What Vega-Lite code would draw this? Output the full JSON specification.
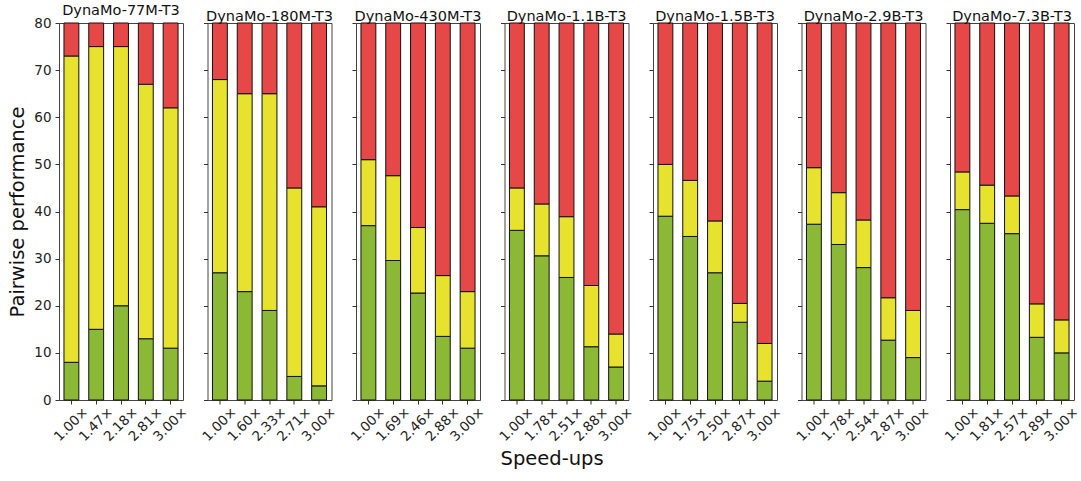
{
  "$schema": "https://vega.github.io/schema/vega-lite/v6.json",
  "background": "white",
  "padding": {"left": 7, "top": 2, "right": 4, "bottom": 4},
  "bounds": "flush",
  "spacing": 24.5,
  "title": {"text": "Speed-ups", "orient": "bottom", "anchor": "middle", "font": "DejaVu Sans", "fontSize": 19.5, "fontWeight": "normal", "color": "#111", "offset": 6, "dx": 8},
  "data": {"values": [
    {"m":"DynaMo-77M-T3","s":"1.00×","c":"win","o":1,"v":8},
    {"m":"DynaMo-77M-T3","s":"1.00×","c":"tie","o":2,"v":65},
    {"m":"DynaMo-77M-T3","s":"1.00×","c":"lose","o":3,"v":7},
    {"m":"DynaMo-77M-T3","s":"1.47×","c":"win","o":1,"v":15},
    {"m":"DynaMo-77M-T3","s":"1.47×","c":"tie","o":2,"v":60},
    {"m":"DynaMo-77M-T3","s":"1.47×","c":"lose","o":3,"v":5},
    {"m":"DynaMo-77M-T3","s":"2.18×","c":"win","o":1,"v":20},
    {"m":"DynaMo-77M-T3","s":"2.18×","c":"tie","o":2,"v":55},
    {"m":"DynaMo-77M-T3","s":"2.18×","c":"lose","o":3,"v":5},
    {"m":"DynaMo-77M-T3","s":"2.81×","c":"win","o":1,"v":13},
    {"m":"DynaMo-77M-T3","s":"2.81×","c":"tie","o":2,"v":54},
    {"m":"DynaMo-77M-T3","s":"2.81×","c":"lose","o":3,"v":13},
    {"m":"DynaMo-77M-T3","s":"3.00×","c":"win","o":1,"v":11},
    {"m":"DynaMo-77M-T3","s":"3.00×","c":"tie","o":2,"v":51},
    {"m":"DynaMo-77M-T3","s":"3.00×","c":"lose","o":3,"v":18},

    {"m":"DynaMo-180M-T3","s":"1.00×","c":"win","o":1,"v":27},
    {"m":"DynaMo-180M-T3","s":"1.00×","c":"tie","o":2,"v":41},
    {"m":"DynaMo-180M-T3","s":"1.00×","c":"lose","o":3,"v":12},
    {"m":"DynaMo-180M-T3","s":"1.60×","c":"win","o":1,"v":23},
    {"m":"DynaMo-180M-T3","s":"1.60×","c":"tie","o":2,"v":42},
    {"m":"DynaMo-180M-T3","s":"1.60×","c":"lose","o":3,"v":15},
    {"m":"DynaMo-180M-T3","s":"2.33×","c":"win","o":1,"v":19},
    {"m":"DynaMo-180M-T3","s":"2.33×","c":"tie","o":2,"v":46},
    {"m":"DynaMo-180M-T3","s":"2.33×","c":"lose","o":3,"v":15},
    {"m":"DynaMo-180M-T3","s":"2.71×","c":"win","o":1,"v":5},
    {"m":"DynaMo-180M-T3","s":"2.71×","c":"tie","o":2,"v":40},
    {"m":"DynaMo-180M-T3","s":"2.71×","c":"lose","o":3,"v":35},
    {"m":"DynaMo-180M-T3","s":"3.00×","c":"win","o":1,"v":3},
    {"m":"DynaMo-180M-T3","s":"3.00×","c":"tie","o":2,"v":38},
    {"m":"DynaMo-180M-T3","s":"3.00×","c":"lose","o":3,"v":39},

    {"m":"DynaMo-430M-T3","s":"1.00×","c":"win","o":1,"v":37},
    {"m":"DynaMo-430M-T3","s":"1.00×","c":"tie","o":2,"v":14},
    {"m":"DynaMo-430M-T3","s":"1.00×","c":"lose","o":3,"v":29},
    {"m":"DynaMo-430M-T3","s":"1.69×","c":"win","o":1,"v":29.6},
    {"m":"DynaMo-430M-T3","s":"1.69×","c":"tie","o":2,"v":18},
    {"m":"DynaMo-430M-T3","s":"1.69×","c":"lose","o":3,"v":32.4},
    {"m":"DynaMo-430M-T3","s":"2.46×","c":"win","o":1,"v":22.7},
    {"m":"DynaMo-430M-T3","s":"2.46×","c":"tie","o":2,"v":13.9},
    {"m":"DynaMo-430M-T3","s":"2.46×","c":"lose","o":3,"v":43.4},
    {"m":"DynaMo-430M-T3","s":"2.88×","c":"win","o":1,"v":13.5},
    {"m":"DynaMo-430M-T3","s":"2.88×","c":"tie","o":2,"v":12.9},
    {"m":"DynaMo-430M-T3","s":"2.88×","c":"lose","o":3,"v":53.6},
    {"m":"DynaMo-430M-T3","s":"3.00×","c":"win","o":1,"v":11},
    {"m":"DynaMo-430M-T3","s":"3.00×","c":"tie","o":2,"v":12},
    {"m":"DynaMo-430M-T3","s":"3.00×","c":"lose","o":3,"v":57},

    {"m":"DynaMo-1.1B-T3","s":"1.00×","c":"win","o":1,"v":36},
    {"m":"DynaMo-1.1B-T3","s":"1.00×","c":"tie","o":2,"v":9},
    {"m":"DynaMo-1.1B-T3","s":"1.00×","c":"lose","o":3,"v":35},
    {"m":"DynaMo-1.1B-T3","s":"1.78×","c":"win","o":1,"v":30.6},
    {"m":"DynaMo-1.1B-T3","s":"1.78×","c":"tie","o":2,"v":11},
    {"m":"DynaMo-1.1B-T3","s":"1.78×","c":"lose","o":3,"v":38.4},
    {"m":"DynaMo-1.1B-T3","s":"2.51×","c":"win","o":1,"v":26},
    {"m":"DynaMo-1.1B-T3","s":"2.51×","c":"tie","o":2,"v":12.9},
    {"m":"DynaMo-1.1B-T3","s":"2.51×","c":"lose","o":3,"v":41.1},
    {"m":"DynaMo-1.1B-T3","s":"2.88×","c":"win","o":1,"v":11.3},
    {"m":"DynaMo-1.1B-T3","s":"2.88×","c":"tie","o":2,"v":13},
    {"m":"DynaMo-1.1B-T3","s":"2.88×","c":"lose","o":3,"v":55.7},
    {"m":"DynaMo-1.1B-T3","s":"3.00×","c":"win","o":1,"v":7},
    {"m":"DynaMo-1.1B-T3","s":"3.00×","c":"tie","o":2,"v":7},
    {"m":"DynaMo-1.1B-T3","s":"3.00×","c":"lose","o":3,"v":66},

    {"m":"DynaMo-1.5B-T3","s":"1.00×","c":"win","o":1,"v":39},
    {"m":"DynaMo-1.5B-T3","s":"1.00×","c":"tie","o":2,"v":11},
    {"m":"DynaMo-1.5B-T3","s":"1.00×","c":"lose","o":3,"v":30},
    {"m":"DynaMo-1.5B-T3","s":"1.75×","c":"win","o":1,"v":34.7},
    {"m":"DynaMo-1.5B-T3","s":"1.75×","c":"tie","o":2,"v":11.9},
    {"m":"DynaMo-1.5B-T3","s":"1.75×","c":"lose","o":3,"v":33.4},
    {"m":"DynaMo-1.5B-T3","s":"2.50×","c":"win","o":1,"v":27},
    {"m":"DynaMo-1.5B-T3","s":"2.50×","c":"tie","o":2,"v":11},
    {"m":"DynaMo-1.5B-T3","s":"2.50×","c":"lose","o":3,"v":42},
    {"m":"DynaMo-1.5B-T3","s":"2.87×","c":"win","o":1,"v":16.5},
    {"m":"DynaMo-1.5B-T3","s":"2.87×","c":"tie","o":2,"v":4},
    {"m":"DynaMo-1.5B-T3","s":"2.87×","c":"lose","o":3,"v":59.5},
    {"m":"DynaMo-1.5B-T3","s":"3.00×","c":"win","o":1,"v":4},
    {"m":"DynaMo-1.5B-T3","s":"3.00×","c":"tie","o":2,"v":8},
    {"m":"DynaMo-1.5B-T3","s":"3.00×","c":"lose","o":3,"v":68},

    {"m":"DynaMo-2.9B-T3","s":"1.00×","c":"win","o":1,"v":37.3},
    {"m":"DynaMo-2.9B-T3","s":"1.00×","c":"tie","o":2,"v":12},
    {"m":"DynaMo-2.9B-T3","s":"1.00×","c":"lose","o":3,"v":30.7},
    {"m":"DynaMo-2.9B-T3","s":"1.78×","c":"win","o":1,"v":33},
    {"m":"DynaMo-2.9B-T3","s":"1.78×","c":"tie","o":2,"v":11},
    {"m":"DynaMo-2.9B-T3","s":"1.78×","c":"lose","o":3,"v":36},
    {"m":"DynaMo-2.9B-T3","s":"2.54×","c":"win","o":1,"v":28.1},
    {"m":"DynaMo-2.9B-T3","s":"2.54×","c":"tie","o":2,"v":10.1},
    {"m":"DynaMo-2.9B-T3","s":"2.54×","c":"lose","o":3,"v":41.8},
    {"m":"DynaMo-2.9B-T3","s":"2.87×","c":"win","o":1,"v":12.7},
    {"m":"DynaMo-2.9B-T3","s":"2.87×","c":"tie","o":2,"v":9},
    {"m":"DynaMo-2.9B-T3","s":"2.87×","c":"lose","o":3,"v":58.3},
    {"m":"DynaMo-2.9B-T3","s":"3.00×","c":"win","o":1,"v":9},
    {"m":"DynaMo-2.9B-T3","s":"3.00×","c":"tie","o":2,"v":10},
    {"m":"DynaMo-2.9B-T3","s":"3.00×","c":"lose","o":3,"v":61},

    {"m":"DynaMo-7.3B-T3","s":"1.00×","c":"win","o":1,"v":40.4},
    {"m":"DynaMo-7.3B-T3","s":"1.00×","c":"tie","o":2,"v":8},
    {"m":"DynaMo-7.3B-T3","s":"1.00×","c":"lose","o":3,"v":31.6},
    {"m":"DynaMo-7.3B-T3","s":"1.81×","c":"win","o":1,"v":37.5},
    {"m":"DynaMo-7.3B-T3","s":"1.81×","c":"tie","o":2,"v":8.1},
    {"m":"DynaMo-7.3B-T3","s":"1.81×","c":"lose","o":3,"v":34.4},
    {"m":"DynaMo-7.3B-T3","s":"2.57×","c":"win","o":1,"v":35.3},
    {"m":"DynaMo-7.3B-T3","s":"2.57×","c":"tie","o":2,"v":8},
    {"m":"DynaMo-7.3B-T3","s":"2.57×","c":"lose","o":3,"v":36.7},
    {"m":"DynaMo-7.3B-T3","s":"2.89×","c":"win","o":1,"v":13.3},
    {"m":"DynaMo-7.3B-T3","s":"2.89×","c":"tie","o":2,"v":7.1},
    {"m":"DynaMo-7.3B-T3","s":"2.89×","c":"lose","o":3,"v":59.6},
    {"m":"DynaMo-7.3B-T3","s":"3.00×","c":"win","o":1,"v":10},
    {"m":"DynaMo-7.3B-T3","s":"3.00×","c":"tie","o":2,"v":7},
    {"m":"DynaMo-7.3B-T3","s":"3.00×","c":"lose","o":3,"v":63}
  ]},
  "hconcat": [
    {"width":124,"height":377,"title":{"text":"DynaMo-77M-T3","frame":"group","offset":-2},
     "transform":[{"filter":"datum.m === 'DynaMo-77M-T3'"}],
     "mark":{"type":"bar","stroke":"#111","strokeWidth":1},
     "encoding":{
       "x":{"field":"s","type":"ordinal","title":null,"scale":{"paddingInner":0.4,"paddingOuter":0.2}},
       "y":{"field":"v","type":"quantitative","stack":"zero","scale":{"domain":[0,80],"nice":false},"axis":{"title":"Pairwise performance","titlePadding":6}},
       "color":{"field":"c","type":"nominal","scale":{"domain":["win","tie","lose"],"range":["#8cb935","#e6e22e","#e64848"]},"legend":null},
       "order":{"field":"o","type":"quantitative"}}},
    {"width":124,"height":377,"title":{"text":"DynaMo-180M-T3","frame":"group","offset":-2},
     "transform":[{"filter":"datum.m === 'DynaMo-180M-T3'"}],
     "mark":{"type":"bar","stroke":"#111","strokeWidth":1},
     "encoding":{
       "x":{"field":"s","type":"ordinal","title":null,"scale":{"paddingInner":0.4,"paddingOuter":0.2}},
       "y":{"field":"v","type":"quantitative","stack":"zero","scale":{"domain":[0,80],"nice":false},"axis":{"title":null,"labels":false}},
       "color":{"field":"c","type":"nominal","scale":{"domain":["win","tie","lose"],"range":["#8cb935","#e6e22e","#e64848"]},"legend":null},
       "order":{"field":"o","type":"quantitative"}}},
    {"width":124,"height":377,"title":{"text":"DynaMo-430M-T3","frame":"group","offset":-2},
     "transform":[{"filter":"datum.m === 'DynaMo-430M-T3'"}],
     "mark":{"type":"bar","stroke":"#111","strokeWidth":1},
     "encoding":{
       "x":{"field":"s","type":"ordinal","title":null,"scale":{"paddingInner":0.4,"paddingOuter":0.2}},
       "y":{"field":"v","type":"quantitative","stack":"zero","scale":{"domain":[0,80],"nice":false},"axis":{"title":null,"labels":false}},
       "color":{"field":"c","type":"nominal","scale":{"domain":["win","tie","lose"],"range":["#8cb935","#e6e22e","#e64848"]},"legend":null},
       "order":{"field":"o","type":"quantitative"}}},
    {"width":124,"height":377,"title":{"text":"DynaMo-1.1B-T3","frame":"group","offset":-2},
     "transform":[{"filter":"datum.m === 'DynaMo-1.1B-T3'"}],
     "mark":{"type":"bar","stroke":"#111","strokeWidth":1},
     "encoding":{
       "x":{"field":"s","type":"ordinal","title":null,"scale":{"paddingInner":0.4,"paddingOuter":0.2}},
       "y":{"field":"v","type":"quantitative","stack":"zero","scale":{"domain":[0,80],"nice":false},"axis":{"title":null,"labels":false}},
       "color":{"field":"c","type":"nominal","scale":{"domain":["win","tie","lose"],"range":["#8cb935","#e6e22e","#e64848"]},"legend":null},
       "order":{"field":"o","type":"quantitative"}}},
    {"width":124,"height":377,"title":{"text":"DynaMo-1.5B-T3","frame":"group","offset":-2},
     "transform":[{"filter":"datum.m === 'DynaMo-1.5B-T3'"}],
     "mark":{"type":"bar","stroke":"#111","strokeWidth":1},
     "encoding":{
       "x":{"field":"s","type":"ordinal","title":null,"scale":{"paddingInner":0.4,"paddingOuter":0.2}},
       "y":{"field":"v","type":"quantitative","stack":"zero","scale":{"domain":[0,80],"nice":false},"axis":{"title":null,"labels":false}},
       "color":{"field":"c","type":"nominal","scale":{"domain":["win","tie","lose"],"range":["#8cb935","#e6e22e","#e64848"]},"legend":null},
       "order":{"field":"o","type":"quantitative"}}},
    {"width":124,"height":377,"title":{"text":"DynaMo-2.9B-T3","frame":"group","offset":-2},
     "transform":[{"filter":"datum.m === 'DynaMo-2.9B-T3'"}],
     "mark":{"type":"bar","stroke":"#111","strokeWidth":1},
     "encoding":{
       "x":{"field":"s","type":"ordinal","title":null,"scale":{"paddingInner":0.4,"paddingOuter":0.2}},
       "y":{"field":"v","type":"quantitative","stack":"zero","scale":{"domain":[0,80],"nice":false},"axis":{"title":null,"labels":false}},
       "color":{"field":"c","type":"nominal","scale":{"domain":["win","tie","lose"],"range":["#8cb935","#e6e22e","#e64848"]},"legend":null},
       "order":{"field":"o","type":"quantitative"}}},
    {"width":124,"height":377,"title":{"text":"DynaMo-7.3B-T3","frame":"group","offset":-2},
     "transform":[{"filter":"datum.m === 'DynaMo-7.3B-T3'"}],
     "mark":{"type":"bar","stroke":"#111","strokeWidth":1},
     "encoding":{
       "x":{"field":"s","type":"ordinal","title":null,"scale":{"paddingInner":0.4,"paddingOuter":0.2}},
       "y":{"field":"v","type":"quantitative","stack":"zero","scale":{"domain":[0,80],"nice":false},"axis":{"title":null,"labels":false}},
       "color":{"field":"c","type":"nominal","scale":{"domain":["win","tie","lose"],"range":["#8cb935","#e6e22e","#e64848"]},"legend":null},
       "order":{"field":"o","type":"quantitative"}}}
  ],
  "config": {
    "view": {"stroke": "#444", "strokeWidth": 1},
    "title": {"font": "DejaVu Sans", "fontSize": 14.5, "fontWeight": "normal", "color": "#111", "anchor": "middle"},
    "style": {"group-title": {"font": "DejaVu Sans", "fontSize": 14.5, "fontWeight": "normal", "fill": "#111"}},
    "axis": {"domain": false, "grid": false, "tickColor": "#333", "tickSize": 4, "labelColor": "#222", "labelFont": "DejaVu Sans", "labelFontSize": 13.5, "titleFont": "DejaVu Sans", "titleFontSize": 19.5, "titleFontWeight": "normal", "titleColor": "#111"},
    "axisX": {"labelAngle": -45, "labelAlign": "center", "labelBaseline": "middle", "labelPadding": 20},
    "axisY": {"values": [0, 10, 20, 30, 40, 50, 60, 70, 80], "labelPadding": 4}
  }
}
